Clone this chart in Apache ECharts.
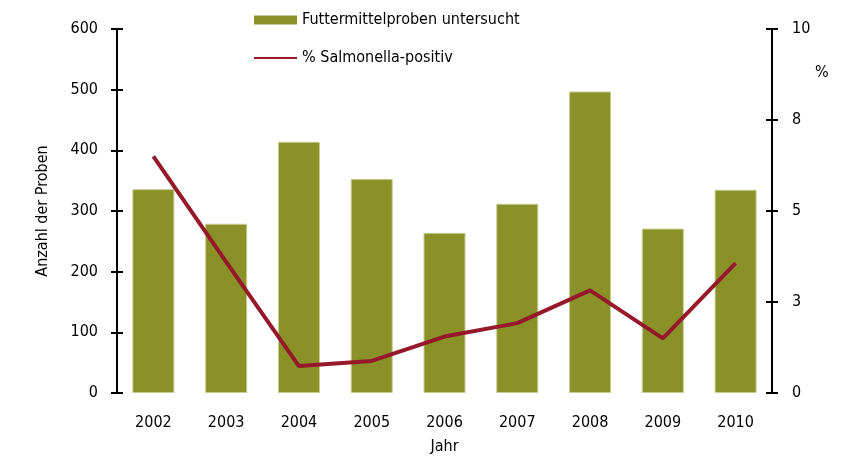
<!DOCTYPE html>
<html>
<head>
<meta charset="utf-8">
<script src="https://cdn.jsdelivr.net/npm/echarts@6/dist/echarts.min.js"></script>
<style>
  html, body { margin: 0; padding: 0; background: #fff; }
  #chart { width: 845px; height: 456px; }
</style>
</head>
<body>
<div id="chart"></div>
<script>
// Jahre
let years = ['2002', '2003', '2004', '2005', '2006', '2007', '2008', '2009', '2010']
// Anzahl untersuchter Futtermittelproben
let proben = [336, 279, 414, 353, 264, 312, 497, 271, 335]
// Anteil Salmonella-positiv in %
let salmonella = [6.5, 3.6, 0.74, 0.88, 1.55, 1.92, 2.82, 1.5, 3.57]

let font = '"DejaVu Sans Condensed", "Noto Sans", sans-serif'
let barColor = '#8a9129'
let lineColor = '#95192a'

let option = {
  animation: false,
  textStyle: { fontFamily: font },
  title: {
    text: '%',
    left: 810,
    top: 60,
    textStyle: { fontFamily: font, fontSize: 16, fontWeight: 'normal', color: '#000' }
  },
  legend: {
    orient: 'vertical',
    left: 254,
    top: 12,
    padding: 0,
    itemWidth: 43,
    itemHeight: 9,
    itemGap: 22,
    symbolKeepAspect: true,
    textStyle: { fontFamily: font, fontSize: 16, color: '#000' },
    data: [
      { name: 'Futtermittelproben untersucht', icon: 'rect', itemStyle: { borderWidth: 0 } },
      // duenne Linie als Legendensymbol
      { name: '% Salmonella-positiv', icon: 'path://M0,3.5 L43,3.5 L43,5.5 L0,5.5 Z' }
    ]
  },
  grid: { left: 117, right: 73, top: 29, bottom: 63, outerBoundsMode: 'none' },
  xAxis: {
    type: 'category',
    data: years,
    name: 'Jahr',
    nameLocation: 'middle',
    nameGap: 46,
    nameTextStyle: { fontFamily: font, fontSize: 16, color: '#000' },
    axisLine: { show: false },
    axisTick: { show: false },
    axisLabel: { margin: 22, fontSize: 16, color: '#000', fontFamily: font }
  },
  yAxis: [
    {
      type: 'value',
      min: 0, max: 600, interval: 100,
      position: 'left',
      name: 'Anzahl der Proben',
      nameLocation: 'middle',
      nameGap: 66,
      nameTextStyle: { fontFamily: font, fontSize: 16, color: '#000' },
      axisLine: { show: true, lineStyle: { color: '#000', width: 2 } },
      axisTick: { show: true, length: 6, lineStyle: { color: '#000', width: 2 } },
      axisLabel: { margin: 19, fontSize: 16, color: '#000', fontFamily: font },
      splitLine: { show: false }
    },
    {
      type: 'value',
      min: 0, max: 10, interval: 2.5,
      position: 'right',
      axisLine: { show: true, lineStyle: { color: '#000', width: 2 } },
      axisTick: { show: true, length: 6, lineStyle: { color: '#000', width: 2 } },
      axisLabel: {
        margin: 20, fontSize: 16, color: '#000', fontFamily: font,
        formatter: function (v) { return String(Math.round(v)) }
      },
      splitLine: { show: false }
    },
    // innere Teilstriche (Kreuzmarken)
    {
      type: 'value',
      min: 0, max: 600, interval: 100,
      position: 'left',
      axisLine: { show: false },
      axisTick: { show: true, inside: true, length: 6, lineStyle: { color: '#000', width: 2 } },
      axisLabel: { show: false },
      splitLine: { show: false }
    },
    {
      type: 'value',
      min: 0, max: 10, interval: 2.5,
      position: 'right',
      axisLine: { show: false },
      axisTick: { show: true, inside: true, length: 6, lineStyle: { color: '#000', width: 2 } },
      axisLabel: { show: false },
      splitLine: { show: false }
    }
  ],
  series: [
    {
      name: 'Futtermittelproben untersucht',
      type: 'bar',
      yAxisIndex: 0,
      barWidth: 42,
      data: proben,
      itemStyle: { color: barColor, borderColor: '#c8cb90', borderWidth: 1 }
    },
    {
      name: '% Salmonella-positiv',
      type: 'line',
      yAxisIndex: 1,
      symbol: 'none',
      data: salmonella,
      lineStyle: { color: lineColor, width: 4 },
      itemStyle: { color: lineColor }
    }
  ]
}

let myChart = echarts.init(document.getElementById('chart'))
myChart.setOption(option)
</script>
</body>
</html>
